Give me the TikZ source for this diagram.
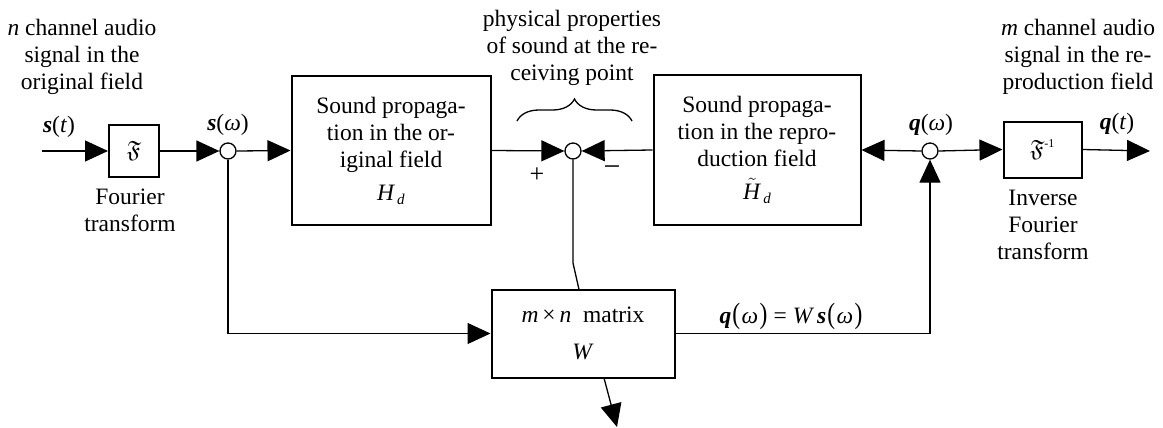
\documentclass[tikz,border=0pt]{standalone}
\usepackage{amssymb}
\usepackage{fontspec}
\setmainfont{Liberation Serif}
\usetikzlibrary{arrows.meta,decorations.pathreplacing,calc}
\newcommand{\subd}{\kern2pt\raisebox{-4pt}{\fontsize{15}{15}\selectfont\textit{d}}}
\newcommand{\bigparL}{\scalebox{1}[1.25]{(}}
\newcommand{\bigparR}{\scalebox{1}[1.25]{)}}
\begin{document}
\begin{tikzpicture}[x=1pt,y=-1pt,
  txt/.style={font=\fontsize{23.5}{27}\selectfont,inner sep=0pt,align=center},
  blk/.style={draw,line width=2pt,inner sep=0pt,align=center,font=\fontsize{23.5}{27}\selectfont},
  junc/.style={draw,circle,line width=1.3pt,fill=white,minimum size=16pt,inner sep=0pt},
  wire/.style={line width=1.3pt},
  arr/.style={wire,-{Triangle[length=23pt,width=21pt]}}]
\useasboundingbox (0,0) rectangle (1163,428);
% blocks
\node[blk,minimum width=50pt,minimum height=52pt] (F) at (134,151) {$\mathfrak{F}$};
\node[junc] (c1) at (228,151) {};
\node[blk,minimum width=199pt,minimum height=148pt] (B1) at (391,150.5)
  {Sound propaga-\\tion in the or-\\iginal field\\[6pt]\textit{H}\subd};
\node[junc] (c2) at (573,151) {};
\node[blk,minimum width=207pt,minimum height=149pt] (B2) at (757,150)
  {Sound propaga-\\tion in the repro-\\duction field\\[6pt]$\tilde{\hbox{\textit{H}}}$\subd};
\node[junc] (c3) at (930,151) {};
\node[blk,minimum width=78pt,minimum height=56pt] (Fi) at (1042.5,149.5) {$\mathfrak{F}^{\fontsize{12}{12}\selectfont\textrm{-1}}$};
\node[blk,minimum width=183pt,minimum height=88pt] (W) at (583,333.5)
  {\textit{m}\,×\,\textit{n}\ \ matrix\\[10pt]\textit{W}};
% free ends
\coordinate (in) at (42,151);
\coordinate (out) at (1150,151);
\coordinate (k) at (573,263);
\coordinate (wt) at (579,289.5);
\coordinate (wb) at (604,378);
\coordinate (wo) at (617,427);
% connectors
\draw[arr] (in) -- (F.west);
\draw[arr] (F.east) -- (c1.west);
\draw[arr] (c1.east) -- (B1.west);
\draw[arr] (B1.east) -- (c2.west);
\draw[arr] (B2.west) -- (c2.east);
\draw[arr] (c3.west) -- (B2.east);
\draw[arr] (c3.east) -- (Fi.west);
\draw[arr] (Fi.east) -- (out);
\draw[arr] (c1.south) |- (W.west);
\draw[wire] (c2.south) -- (k) -- (wt);
\draw[arr] (wb) -- (wo);
\draw[arr] (W.east) -| (c3.south);
% brace
\draw[wire,decorate,decoration={brace,amplitude=22pt}] (517,121) -- (632,121);
% labels
\node[txt] (tl) at (82,57) {\textit{n} channel audio\\signal in the\\original field};
\node[txt] (tc) at (572,48) {physical properties\\of sound at the re-\\ceiving point};
\node[txt] (tr) at (1078,57) {\textit{m} channel audio\\signal in the re-\\production field};
\node[txt,anchor=base] (st) at (59,132) {\textbf{\textit{s}}(\textit{t})};
\node[txt,anchor=base] (sw) at (228,130) {\textbf{\textit{s}}(\textit{ω})};
\node[txt,anchor=base] (qw) at (931,131) {\textbf{\textit{q}}(\textit{ω})};
\node[txt,anchor=base] (qt) at (1117,129) {\textbf{\textit{q}}(\textit{t})};
\node[txt] (ft) at (130,210) {Fourier\\transform};
\node[txt] (ift) at (1043,225) {Inverse\\Fourier\\transform};
\node[txt,font=\fontsize{26}{26}\selectfont] (pl) at (537,175) {+};
\node[txt,font=\fontsize{30}{30}\selectfont] (mi) at (612,171) {−};
\node[txt,anchor=base] (eq) at (791,323) {\textbf{\textit{q}}\kern1pt\bigparL\kern1.5pt\textit{ω}\kern1.5pt\bigparR\kern6pt=\kern6pt\textit{W}\kern3pt\textbf{\textit{s}}\kern1pt\bigparL\kern1.5pt\textit{ω}\kern1.5pt\bigparR};
\end{tikzpicture}
\end{document}
